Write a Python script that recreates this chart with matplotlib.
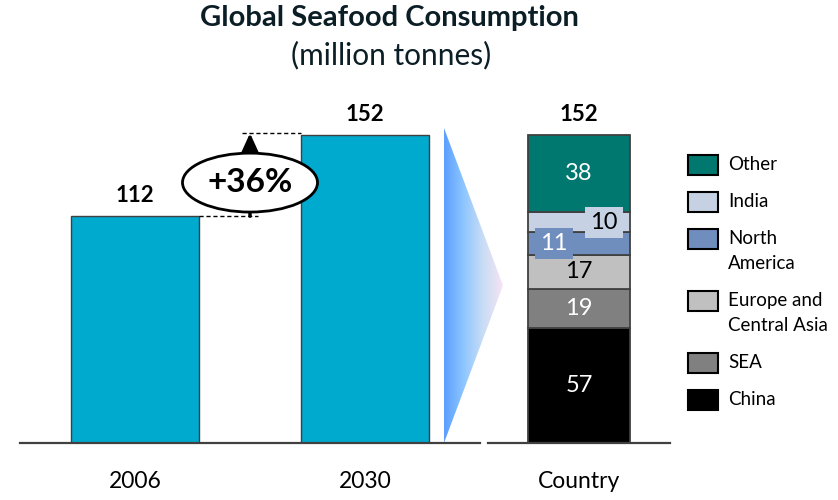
import numpy as np
import matplotlib
matplotlib.use("Agg")
import matplotlib.pyplot as plt
from matplotlib.patches import Ellipse, Polygon, Rectangle
from matplotlib.colors import LinearSegmentedColormap

plt.rcParams['font.family'] = ['Lato', 'DejaVu Sans']

# ---- data -------------------------------------------------------------
years = ["2006", "2030"]
totals = [112, 152]
growth_label = "+36%"

regions = ["China", "SEA", "Europe and\nCentral Asia", "North\nAmerica", "India", "Other"]
region_values = [57, 19, 17, 11, 10, 38]
region_colors = ["#000000", "#808080", "#C0C0C0", "#6F8DBD", "#C6D1E4", "#00786F"]
region_text_colors = ["white", "white", "black", "white", "black", "white"]
stack_label = "Country"

# ---- layout -----------------------------------------------------------
W, H = 838, 500
fig = plt.figure(figsize=(W / 100, H / 100), dpi=100)

base_px, top_px = 443, 100
px_per_unit = 2.025
ymax = (base_px - top_px) / px_per_unit
bottom = (H - base_px) / H
height = (base_px - top_px) / H

bar_color = "#00A9CE"
edge = "#404040"

ax1 = fig.add_axes([20 / W, bottom, 460 / W, height])
ax2 = fig.add_axes([488 / W, bottom, 182 / W, height])
for ax in (ax1, ax2):
    ax.set_ylim(0, ymax)
    for s in ("top", "right", "left"):
        ax.spines[s].set_visible(False)
    ax.spines["bottom"].set_color(edge)
    ax.spines["bottom"].set_linewidth(1.6)
    ax.set_yticks([])
    ax.tick_params(axis="x", length=0, pad=20, labelsize=16.5, labelcolor="black")
    ax.patch.set_alpha(0)

# ---- left panel: totals -----------------------------------------------
ax1.set_xlim(-0.5, 1.5)
bw = 0.556
x = np.arange(len(years))
ax1.bar(x, totals, width=bw, color=bar_color, edgecolor=edge, linewidth=1.0, zorder=2)
ax1.set_xticks(x, years)
for xi, v in zip(x, totals):
    ax1.annotate(str(v), (xi, v), xytext=(0, 15), textcoords="offset points",
                 ha="center", va="center", fontsize=16, fontweight="bold")

# growth marker between the two bars
xm = 0.5
ax1.plot([bw / 2, xm + 0.035], [totals[0], totals[0]], ls=(0, (3, 2)), color="black",
         lw=1.0, zorder=3, clip_on=False)
ax1.plot([xm - 0.035, 1 - bw / 2], [totals[1] + 1, totals[1] + 1], ls=(0, (3, 2)),
         color="black", lw=1.0, zorder=3, clip_on=False)
ax1.annotate("", xy=(xm, totals[1] + 1), xytext=(xm, totals[0]),
             arrowprops=dict(arrowstyle="-|>,head_length=0.55,head_width=0.25", lw=2.5,
                             color="black", mutation_scale=20, shrinkA=0, shrinkB=0),
             zorder=4)
ax1.add_patch(Ellipse((xm, 128.6), 0.587, 29.1, facecolor="white", edgecolor="black",
                      lw=2.0, zorder=5, clip_on=False))
ax1.text(xm, 128.6, growth_label, ha="center", va="center", fontsize=24,
         fontweight="bold", zorder=6)

# ---- right panel: stacked breakdown -----------------------------------
ax2.set_xlim(-0.5, 0.5)
sw = 0.555
cum = 0
label_dx = {4: 0.137, 3: -0.137}
for i, (v, c, tc) in enumerate(zip(region_values, region_colors, region_text_colors)):
    ax2.bar(0, v, width=sw, bottom=cum, color=c, edgecolor=edge, linewidth=1.3, zorder=2)
    dx = label_dx.get(i, 0.0)
    if dx:
        ax2.text(dx, cum + v / 2, str(v), ha="center", va="center", fontsize=17, color=tc,
                 zorder=4, bbox=dict(boxstyle="square,pad=0.22", fc=c, ec="none"))
    else:
        ax2.text(0, cum + v / 2, str(v), ha="center", va="center", fontsize=17, color=tc,
                 zorder=4)
    cum += v
ax2.set_xticks([0], [stack_label])
ax2.annotate(str(cum), (0, cum), xytext=(0, 15), textcoords="offset points",
             ha="center", va="center", fontsize=16, fontweight="bold")

# ---- gradient wedge linking the panels ---------------------------------
over = fig.add_axes([0, 0, 1, 1], zorder=-1)
over.set_xlim(0, W)
over.set_ylim(H, 0)
over.axis("off")
over.patch.set_alpha(0)
wedge = Polygon([(444, 128), (444, 443), (503, 285.5)], closed=True,
                facecolor="none", edgecolor="none")
over.add_patch(wedge)
cmap = LinearSegmentedColormap.from_list("wedge", ["#5C9EFF", "#8EC6FF", "#C9DDF5", "#F7E4F4"])
grad = np.linspace(0, 1, 256).reshape(1, -1)
img = over.imshow(grad, cmap=cmap, extent=(444, 503, 443, 128), aspect="auto",
                  interpolation="bilinear")
img.set_clip_path(wedge)

# ---- legend -----------------------------------------------------------
y = 165
for name, c in reversed(list(zip(regions, region_colors))):
    over.add_patch(Rectangle((688, y - 10), 30, 20, facecolor=c, edgecolor="black", lw=1.5))
    over.text(728, y - 9, name, ha="left", va="top", fontsize=13.5, linespacing=1.6)
    y += 37 + 25 * name.count("\n")

# ---- titles -----------------------------------------------------------
fig.text(389 / W, 1 - 18 / H, "Global Seafood Consumption", ha="center", va="center",
         fontsize=21, fontweight="bold", color="#0B1E26")
fig.text(391 / W, 1 - 55 / H, "(million tonnes)", ha="center", va="center",
         fontsize=21.5, color="#0B1E26")

fig.savefig("out.png", dpi=100)
